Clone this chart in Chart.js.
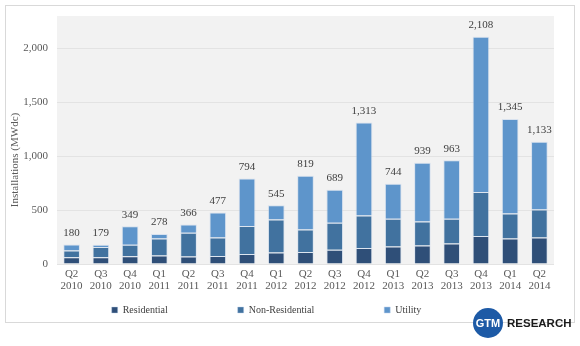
<!DOCTYPE html>
<html>
<head>
<meta charset="utf-8">
<script src="https://cdn.jsdelivr.net/npm/chart.js@4.4.0/dist/chart.umd.min.js"></script>
<style>
html,body{margin:0;padding:0;background:#fff;}
#wrap{width:580px;height:346px;position:relative;}
</style>
</head>
<body>
<div id="wrap"><canvas id="solar" width="580" height="346"></canvas></div>
<script>
// quarterly US solar installations, MWdc
var quarters=["Q2","Q3","Q4","Q1","Q2","Q3","Q4","Q1","Q2","Q3","Q4","Q1","Q2","Q3","Q4","Q1","Q2"];
var years=["2010","2010","2010","2011","2011","2011","2011","2012","2012","2012","2012","2013","2013","2013","2013","2014","2014"];
var residential=[62,62,73,78,70,75,92,107,111,132,148,163,172,190,259,237,246];
var nonResidential=[63,95,105,158,220,171,260,306,209,250,302,257,223,230,408,232,260];
var utility=[55,22,171,42,76,231,442,132,499,307,863,324,544,543,1441,876,627];
var totals=[180,179,349,278,366,477,794,545,819,689,1313,744,939,963,2108,1345,1133];
var yTicks=[0,500,1000,1500,2000];

var labels=[];
for(var i=0;i<quarters.length;i++){
  labels.push([quarters[i],years[i]]);
}

var serif="'Liberation Serif', 'DejaVu Serif', serif";

// frame, grey plot area, totals and logo
var decor={
  id:"decor",
  afterLayout:function(chart){
    // legend sits a little left of centre in the original
    var lg=chart.legend;
    lg.left=0;
    lg.right=533;
    lg.top=310-70-5;
    lg.bottom=346;
    // axis title is centred lower than the plot middle
    var ys=chart.scales.y;
    if(!ys._moved){
      var orig=ys.drawTitle;
      ys.drawTitle=function(){
        var t=this.top;
        this.top=t+40;
        orig.apply(this,arguments);
        this.top=t;
      };
      ys._moved=true;
    }
  },
  beforeDraw:function(chart){
    var c=chart.ctx, a=chart.chartArea;
    c.save();
    c.strokeStyle="#d9d9d9";
    c.lineWidth=1;
    c.strokeRect(5.5,5.5,569,317);
    c.fillStyle="#f2f2f2";
    c.fillRect(a.left,a.top,a.right-a.left,a.bottom-a.top);
    c.restore();
  },
  afterDatasetsDraw:function(chart){
    var c=chart.ctx;
    var meta=chart.getDatasetMeta(2);
    c.save();
    c.font="11px "+serif;
    c.fillStyle="#404040";
    c.textAlign="center";
    c.textBaseline="middle";
    meta.data.forEach(function(bar,i){
      c.fillText(totals[i].toLocaleString("en-US"),bar.x,bar.y-11.5);
    });
    c.restore();
  },
  afterDraw:function(chart){
    var c=chart.ctx;
    c.save();
    c.beginPath();
    c.arc(488,323,15,0,Math.PI*2);
    c.fillStyle="#1d5aa6";
    c.fill();
    c.fillStyle="#fff";
    c.font="bold 11px 'Liberation Sans', Arial, sans-serif";
    c.textAlign="center";
    c.textBaseline="middle";
    c.fillText("GTM",488,323.5);
    c.fillStyle="#1a1a1a";
    c.font="bold 11.5px 'Liberation Sans', Arial, sans-serif";
    c.textAlign="left";
    c.fillText("RESEARCH",507,323.5);
    c.restore();
  }
};

new Chart("solar",{
  type:"bar",
  data:{
    labels:labels,
    datasets:[
      {label:"Residential",data:residential,backgroundColor:"#2f4f78",borderColor:"rgba(190,210,235,0.4)",borderWidth:1},
      {label:"Non-Residential",data:nonResidential,backgroundColor:"#41729f",borderColor:"rgba(190,210,235,0.4)",borderWidth:1},
      {label:"Utility",data:utility,backgroundColor:"#5e95cb",borderColor:"rgba(190,210,235,0.5)",borderWidth:1}
    ]
  },
  options:{
    responsive:false,
    animation:false,
    layout:{padding:{left:5,right:26,top:16,bottom:20}},
    datasets:{bar:{categoryPercentage:1,barPercentage:0.57}},
    scales:{
      x:{
        stacked:true,
        grid:{display:false,drawTicks:false},
        border:{display:false},
        ticks:{color:"#595959",font:{family:serif,size:11,lineHeight:1.1},padding:4,maxRotation:0,autoSkip:false},
        afterFit:function(s){s.height=32;}
      },
      y:{
        stacked:true,
        min:0,
        max:2300,
        afterBuildTicks:function(s){s.ticks=yTicks.map(function(v){return {value:v};});},
        grid:{color:"#e3e3e3",drawTicks:false},
        border:{display:false},
        ticks:{color:"#595959",font:{family:serif,size:11},padding:9,
          callback:function(v){return v.toLocaleString("en-US");}},
        title:{display:true,text:"Installations (MWdc)",color:"#595959",font:{family:serif,size:11}},
        afterFit:function(s){s.width=52;}
      }
    },
    plugins:{
      legend:{
        position:"bottom",
        maxHeight:30,
        labels:{boxWidth:6,boxHeight:6,padding:70,color:"#404040",font:{family:serif,size:10}}
      },
      tooltip:{enabled:false}
    }
  },
  plugins:[decor]
});
</script>
</body>
</html>
